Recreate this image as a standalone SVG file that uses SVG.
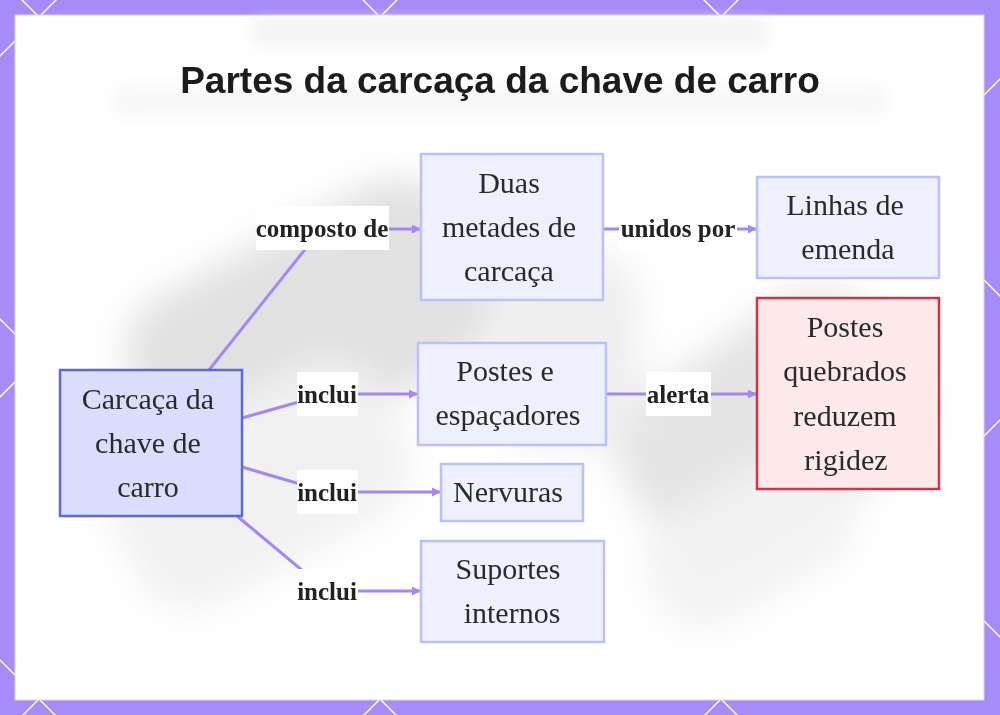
<svg xmlns="http://www.w3.org/2000/svg" width="1000" height="715" viewBox="0 0 1000 715">
<defs>
<style>
.lat{stroke:#ffffff;stroke-width:1.4;fill:none}
.title{font-family:"Liberation Sans",Arial,sans-serif;font-weight:bold;font-size:37px;fill:#1c1c1c}
.nt{font-family:"Liberation Serif","Times New Roman",serif;font-size:30px;fill:#2a2a2a;text-anchor:middle}
.lt{font-family:"Liberation Serif","Times New Roman",serif;font-weight:bold;font-size:25px;fill:#222;text-anchor:middle}
.lbg{fill:#ffffff}
.node{fill:#eef0fe;stroke:#bac1f8;stroke-width:2.5}
.main{fill:#dadefc;stroke:#5b6ad6;stroke-width:2.5}
.warn{fill:#fde8ea;stroke:#cf3549;stroke-width:2.5}
.edge{stroke:#a586f4;stroke-width:3;fill:none}
.arr{stroke:#a586f4;stroke-width:3;fill:none;marker-end:url(#ah)}
</style>
<marker id="ah" viewBox="0 0 10 10" refX="9" refY="5" markerWidth="3" markerHeight="3" orient="auto" markerUnits="strokeWidth">
<path d="M0,0 L10,5 L0,10 z" fill="#a586f4"/>
</marker>
<filter id="blur" x="-30%" y="-30%" width="160%" height="160%"><feGaussianBlur stdDeviation="18"/></filter>
<filter id="blur2" x="-30%" y="-30%" width="160%" height="160%"><feGaussianBlur stdDeviation="8"/></filter>
</defs>
<rect x="0" y="0" width="1000" height="715" fill="#a68cf9"/>
<g id="lattice">
<line class="lat" x1="-1011" y1="-10" x2="-276" y2="725"/>
<line class="lat" x1="-670" y1="-10" x2="65" y2="725"/>
<line class="lat" x1="-329" y1="-10" x2="406" y2="725"/>
<line class="lat" x1="12" y1="-10" x2="747" y2="725"/>
<line class="lat" x1="353" y1="-10" x2="1088" y2="725"/>
<line class="lat" x1="694" y1="-10" x2="1429" y2="725"/>
<line class="lat" x1="66" y1="-10" x2="-669" y2="725"/>
<line class="lat" x1="407" y1="-10" x2="-328" y2="725"/>
<line class="lat" x1="748" y1="-10" x2="13" y2="725"/>
<line class="lat" x1="1089" y1="-10" x2="354" y2="725"/>
<line class="lat" x1="1430" y1="-10" x2="695" y2="725"/>
<line class="lat" x1="1771" y1="-10" x2="1036" y2="725"/>
</g>
<rect x="15" y="15" width="969" height="685" fill="#ffffff" stroke="#dccff9" stroke-width="1"/>
<g id="background" opacity="0.55">
<rect x="250" y="18" width="520" height="30" rx="14" fill="#ececec" filter="url(#blur2)"/>
<rect x="110" y="85" width="780" height="32" rx="14" fill="#f2f2f2" filter="url(#blur2)"/>
<g filter="url(#blur)">
<rect x="130" y="230" width="360" height="200" rx="60" fill="#c9c9c9" transform="rotate(-28 310 330)"/>
<rect x="110" y="400" width="300" height="170" rx="60" fill="#e6e6e6" transform="rotate(-28 260 485)"/>
<rect x="620" y="330" width="300" height="200" rx="70" fill="#cfcfcf" transform="rotate(-35 770 430)"/>
<rect x="640" y="480" width="220" height="120" rx="50" fill="#e8e8e8" transform="rotate(-30 750 540)"/>
<rect x="500" y="250" width="140" height="200" rx="50" fill="#e2e2e2"/>
</g>
</g>
<text class="title" x="500" y="93" text-anchor="middle">Partes da carcaça da chave de carro</text>
<g id="connectors">
<line class="edge" x1="209" y1="370" x2="322" y2="228"/>
<line class="arr" x1="322" y1="229" x2="420" y2="229"/>
<line class="edge" x1="603" y1="229" x2="678" y2="229"/>
<line class="arr" x1="678" y1="229" x2="756" y2="229"/>
<line class="edge" x1="242" y1="418" x2="327" y2="394"/>
<line class="arr" x1="327" y1="394" x2="417" y2="394"/>
<line class="edge" x1="242" y1="467" x2="327" y2="492"/>
<line class="arr" x1="327" y1="492" x2="440" y2="492"/>
<line class="edge" x1="237" y1="516" x2="327" y2="591"/>
<line class="arr" x1="327" y1="591" x2="420" y2="591"/>
<line class="edge" x1="606" y1="394" x2="678" y2="394"/>
<line class="arr" x1="678" y1="394" x2="756" y2="394"/>
</g>
<g id="label-composto">
<rect class="lbg" x="256" y="206" width="133" height="44"/>
<text class="lt" x="322" y="237">composto de</text>
</g>
<g id="label-unidos">
<rect class="lbg" x="619" y="208" width="118" height="44"/>
<text class="lt" x="678" y="237">unidos por</text>
</g>
<g id="label-inclui1">
<rect class="lbg" x="297" y="372" width="61" height="44"/>
<text class="lt" x="327" y="403">inclui</text>
</g>
<g id="label-inclui2">
<rect class="lbg" x="297" y="470" width="61" height="44"/>
<text class="lt" x="327" y="501">inclui</text>
</g>
<g id="label-inclui3">
<rect class="lbg" x="297" y="569" width="61" height="44"/>
<text class="lt" x="327" y="600">inclui</text>
</g>
<g id="label-alerta">
<rect class="lbg" x="646" y="372" width="65" height="44"/>
<text class="lt" x="678" y="403">alerta</text>
</g>
<g id="node-carcaca">
<rect class="main" x="60" y="370" width="182" height="146"/>
<text class="nt" x="148" y="409">Carcaça da</text>
<text class="nt" x="148" y="453">chave de</text>
<text class="nt" x="148" y="497">carro</text>
</g>
<g id="node-duas">
<rect class="node" x="421" y="154" width="182" height="146"/>
<text class="nt" x="509" y="193">Duas</text>
<text class="nt" x="509" y="237">metades de</text>
<text class="nt" x="509" y="281">carcaça</text>
</g>
<g id="node-linhas">
<rect class="node" x="757" y="177" width="182" height="101"/>
<text class="nt" x="845" y="215">Linhas de</text>
<text class="nt" x="848" y="259">emenda</text>
</g>
<g id="node-postes">
<rect class="node" x="418" y="343" width="188" height="102"/>
<text class="nt" x="505" y="381">Postes e</text>
<text class="nt" x="508" y="425">espaçadores</text>
</g>
<g id="node-nervuras">
<rect class="node" x="441" y="464" width="142" height="57"/>
<text class="nt" x="508" y="502">Nervuras</text>
</g>
<g id="node-suportes">
<rect class="node" x="421" y="541" width="183" height="101"/>
<text class="nt" x="508" y="579">Suportes</text>
<text class="nt" x="512" y="623">internos</text>
</g>
<g id="node-quebrados">
<rect class="warn" x="757" y="298" width="182" height="191"/>
<text class="nt" x="845" y="337">Postes</text>
<text class="nt" x="845" y="381">quebrados</text>
<text class="nt" x="845" y="426">reduzem</text>
<text class="nt" x="846" y="470">rigidez</text>
</g>
</svg>
